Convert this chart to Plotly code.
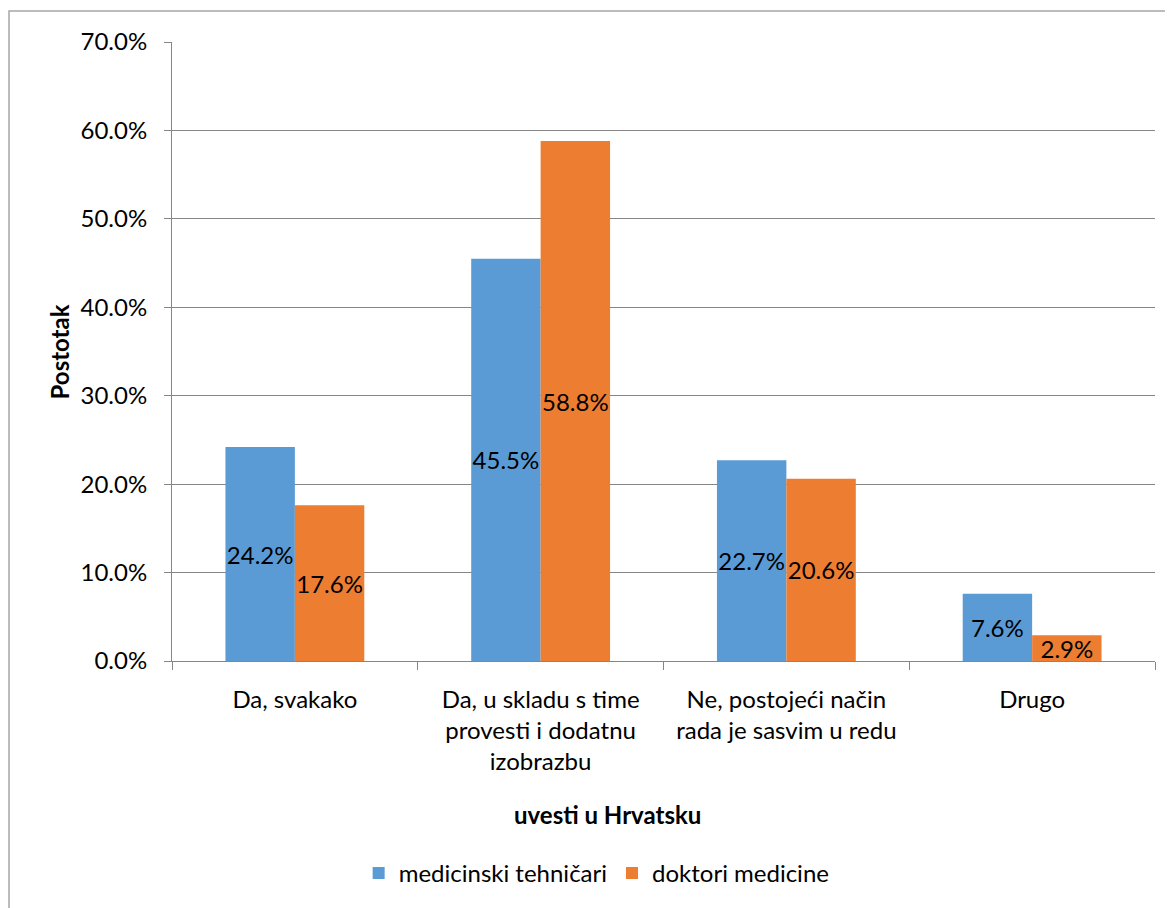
import plotly.graph_objects as go

categories = [
    "Da, svakako",
    "Da, u skladu s time<br>provesti i dodatnu<br>izobrazbu",
    "Ne, postojeći način<br>rada je sasvim u redu",
    "Drugo",
]
series_names = ["medicinski tehničari", "doktori medicine"]
tehnicari = [24.2, 45.5, 22.7, 7.6]
doktori = [17.6, 58.8, 20.6, 2.9]
colors = ["#5B9BD5", "#ED7D31"]

FONT = "Lato"
FS = 24

fig = go.Figure()
for name, vals, col in zip(series_names, [tehnicari, doktori], colors):
    fig.add_trace(go.Bar(
        x=categories, y=vals, name=name,
        marker=dict(color=col, line=dict(width=0)),
        text=[f"{v:.1f}%" for v in vals],
        textposition="inside", insidetextanchor="middle",
        textangle=0, constraintext="none",
        textfont=dict(family=FONT, size=FS, color="#000000"),
    ))

fig.update_layout(
    width=1165, height=900,
    margin=dict(l=164, r=18, t=34, b=245),
    paper_bgcolor="white", plot_bgcolor="white",
    barmode="group", bargap=0.435, bargroupgap=0,
    font=dict(family=FONT, size=FS, color="#000000"),
    showlegend=True,
    legend=dict(orientation="h", x=0.432, y=-0.343, xanchor="center", yanchor="middle",
                font=dict(family=FONT, size=FS), itemwidth=30, traceorder="normal"),
    xaxis=dict(
        showline=True, linecolor="#868686", linewidth=1,
        ticks="outside", tickson="boundaries", ticklen=8, tickcolor="#868686",
        showgrid=False, tickfont=dict(family=FONT, size=FS),
        ticklabelstandoff=17,
    ),
    yaxis=dict(
        range=[0, 70], dtick=10, tickformat=".1f", ticksuffix="%",
        showline=True, linecolor="#868686", linewidth=1,
        ticks="outside", ticklen=7, tickcolor="#868686",
        showgrid=True, gridcolor="#868686", gridwidth=1,
        zeroline=False, tickfont=dict(family=FONT, size=FS),
        ticklabelstandoff=12,
    ),
    annotations=[
        dict(text="<b>uvesti u Hrvatsku</b>", xref="paper", yref="paper",
             x=0.4435, y=-0.248, xanchor="center", yanchor="middle", showarrow=False,
             font=dict(family=FONT, size=FS)),
        dict(text="<b>Postotak</b>", xref="paper", yref="paper", textangle=-90,
             x=-0.114, y=0.5, xanchor="center", yanchor="middle", showarrow=False,
             font=dict(family=FONT, size=FS)),
    ],
    shapes=[
        dict(type="rect", xref="paper", yref="paper",
             x0=-0.1658, x1=1.2, y0=-0.6, y1=1.0499,
             line=dict(color="#A6A6A6", width=1.5), fillcolor="rgba(0,0,0,0)", layer="below"),
    ],
)

fig.write_html("out.html")
